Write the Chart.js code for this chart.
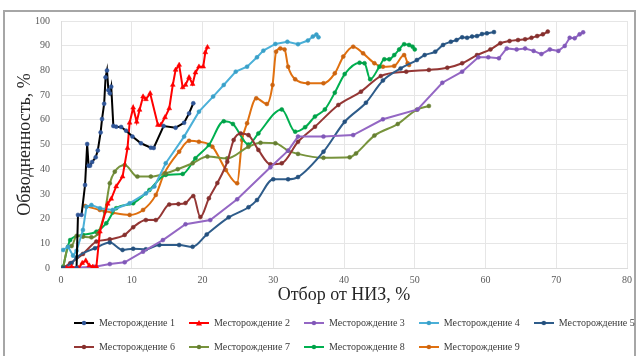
<!DOCTYPE html>
<html><head><meta charset="utf-8">
<script src="https://cdn.jsdelivr.net/npm/chart.js@4/dist/chart.umd.min.js"></script>
<style>
html,body{margin:0;padding:0;background:#fff;}
#wrap{position:relative;width:638px;height:356px;overflow:hidden;background:#fff;}
#frame{position:absolute;left:3px;top:10px;width:629px;height:360px;border:2px solid #a6a6a6;pointer-events:none;}
canvas{position:absolute;left:0;top:0;}
</style></head><body>
<div id="wrap"><div id="frame"></div><canvas id="c" width="638" height="356"></canvas></div>
<script>
const seriesNames = ["Месторождение 1","Месторождение 2","Месторождение 3","Месторождение 4","Месторождение 5","Месторождение 6","Месторождение 7","Месторождение 8","Месторождение 9"];
const xTitle = "Отбор от НИЗ, %";
const yTitle = "Обводненность, %";

const x1 = [2.2,2.4,2.9,3.4,3.7,3.9,4.1,4.4,4.9,5.2,5.6,5.8,6.1,6.3,6.5,6.7,6.9,7.1,7.4,7.8,8.5,9.2,10.1,11.3,12.7,13.1,14.5,16.2,17.4,18.1,18.7];
const y1 = [0,21.5,21.5,33.6,50.2,41.4,41.4,42.9,44.8,47.6,54.9,60.3,66.5,77.2,80,72,70.7,73.4,57.5,57.2,57.1,55.6,53.2,50.5,48.7,48.6,57.5,56.8,58.8,62.6,66.7];

const x2 = [0.8,1.5,2.5,3.0,3.5,4.0,4.5,5.0,5.5,6.6,7.1,7.8,8.7,9.4,9.7,10.2,10.7,11.1,11.6,12.0,12.6,13.7,14.1,14.7,15.3,15.8,16.2,16.7,17.2,17.6,18.1,18.6,19.0,19.5,20.1,20.4,20.7];
const y2 = [0,0.5,0,2,3,1,0.5,0.5,14.7,26,28,33,37,48.5,58.8,64.9,59.2,64,69.4,68.3,70.7,57.9,57.9,61,64.6,74.1,80.2,82.2,73.1,74.1,77.2,74.5,79.1,81.5,81.5,87.3,89.4];

const x3 = [1.0,4.8,6.9,9.0,11.6,14.4,17.6,21.1,24.9,29.6,32.1,33.5,37.1,41.3,45.5,50.4,53.9,56.7,59.0,60.4,61.9,63.0,64.4,65.6,66.8,67.9,69.1,70.3,71.2,71.9,72.6,73.3,73.8];
const y3 = [0,0.5,1.6,2.3,6.6,11.3,17.7,19.4,27.8,40.8,47.5,53.2,53.2,53.8,60.2,64.2,75,79.5,85.3,85.3,84.9,88.9,88.5,88.9,87.9,86.6,88.5,87.9,89.9,93.2,93,94.6,95.4];

const x4 = [0.3,1.0,1.7,2.2,3.1,3.6,4.3,5.5,7.3,9.7,12.0,13.2,14.8,17.4,19.5,21.5,23.0,24.7,26.3,27.7,28.6,30.3,32.0,33.5,34.9,35.6,36.1,36.4];
const y4 = [7.3,8.6,5,7,15.4,24.8,25.5,24.2,23.5,26.2,30.2,33,42.4,53.2,63.3,69.4,74.1,79.5,81.5,85.3,88,90.7,91.6,90.6,92.1,93.7,94.5,93.4];

const x5 = [0.3,1.5,2.2,4.8,6.9,8.7,10.2,12.0,13.9,16.7,18.6,20.6,23.7,26.5,27.7,30.0,32.1,33.5,37.1,40.1,43.1,45.5,48.0,50.3,51.4,52.9,54.0,55.1,55.9,56.7,57.4,58.1,58.8,59.5,60.2,61.2];
const y5 = [0,2,4.3,8,10.3,7.3,7.8,7.6,9.3,9.3,8.6,13.6,20.5,24.6,27.5,35.9,35.9,36.8,47.1,59.2,66.9,75.9,80.8,84.2,86.2,87.6,90.3,91.6,92.3,93.4,93.2,93.7,93.9,94.7,95,95.5];

const x6 = [0.3,1.3,3.1,5.0,6.9,9.0,10.2,12.0,13.4,15.3,16.6,17.6,18.7,19.7,20.9,22.1,23.5,24.4,25.4,26.5,27.9,29.6,31.2,33.5,35.9,39.2,42.4,45.2,48.8,52.0,54.6,56.7,58.8,60.7,62.1,63.4,64.6,65.6,66.5,67.3,68.1,68.8];
const y6 = [0,1.9,5.7,10.7,11.6,13.4,16.5,19.4,19.4,25.7,25.9,26.3,29.1,20.6,28.2,34.4,43,51.8,54.5,53.8,47.8,42,42.4,51.1,57.2,66,71.4,77.7,79.5,80.2,81.1,82.9,86.2,88.5,91,91.9,92.3,92.6,93.2,93.9,94.6,95.7];

const x7 = [0.3,1.0,1.5,2.2,3.1,4.3,5.2,6.2,6.9,7.6,9.0,10.8,12.7,14.8,16.5,18.6,20.7,23.5,26.5,28.2,30.3,32.1,33.5,37.1,40.8,41.7,44.3,47.6,50.3,52.0];
const y7 = [0,8.6,8.9,13,12.7,12.4,14,22.8,34.3,39,41.7,37,37,38.3,40,42.4,45.1,44.4,49.1,50.7,50.5,47.5,46.2,44.6,44.8,46.4,53.6,58.3,64.1,65.6];

const x8 = [0.3,1.3,3.1,5.0,6.4,7.8,10.2,12.5,14.8,17.2,19.0,20.9,23.0,24.3,26.5,27.9,31.2,33.1,34.5,35.9,37.3,38.7,40.1,42.2,42.9,43.7,45.0,45.7,46.4,47.1,47.8,48.5,49.2,49.7,50.0];
const y8 = [0.5,11.3,13.4,14.7,18.1,24.2,26.2,31.6,37.7,38.1,44.4,49.8,59.4,58.3,50,54.5,64.2,55.2,57,61.3,64.2,71,78.5,83.1,82.9,76.4,81.5,84.5,84.5,86.2,88.5,90.6,90.3,89.6,88.5];

const x9 = [3.4,5.5,7.3,9.7,11.6,13.4,14.6,16.7,18.1,19.5,21.4,23.3,24.9,25.6,26.3,27.6,29.1,29.9,30.4,31.0,31.6,32.1,33.1,34.9,37.1,38.7,39.9,41.3,42.7,44.3,45.5,47.1,48.5,49.0,49.2];
const y9 = [25.1,23.5,22.4,21.5,23.5,29.6,38.3,47.1,51.5,51.1,49.1,39.7,34.3,51.8,58.6,68.7,66.4,74.1,87.6,88.9,88.5,81.5,76.4,74.8,74.8,78.8,85.6,89.6,86.9,82.9,81.5,81.8,86.2,82.9,82.2];

const xTicks = [0,10,20,30,40,50,60,70,80];
const yTicks = [0,10,20,30,40,50,60,70,80,90,100];

const xs = [x1,x2,x3,x4,x5,x6,x7,x8,x9];
const ys = [y1,y2,y3,y4,y5,y6,y7,y8,y9];
const lineColors = ['#000000','#ff0000','#9467c4','#4bb0d8','#2e5c8a','#953735','#77933c','#00b050','#e0700f'];
const markColors = ['#2f5597','#ff0000','#8058b8','#3aa0c8','#24507e','#85302e','#667f33','#00a048','#cc6410'];
const smooth = [false,false,false,false,true,true,true,true,true];
const serif = "'Liberation Serif','Times New Roman',serif";

function legendIcon(i){
  const c = document.createElement('canvas');
  c.width = 20; c.height = 8;
  const g = c.getContext('2d');
  g.strokeStyle = lineColors[i]; g.lineWidth = 2;
  g.beginPath(); g.moveTo(0,4); g.lineTo(20,4); g.stroke();
  g.fillStyle = markColors[i];
  g.beginPath();
  if(i===1){ g.moveTo(10,1); g.lineTo(13,6.5); g.lineTo(7,6.5); g.closePath(); }
  else { g.arc(10,4,2.2,0,Math.PI*2); }
  g.fill();
  return c;
}
const legendIcons = seriesNames.map((n,i)=>legendIcon(i));

const datasets = seriesNames.map((name,i)=>({
  label: name,
  data: xs[i].map((x,j)=>({x:x, y:ys[i][j]})),
  borderColor: lineColors[i],
  backgroundColor: lineColors[i],
  borderWidth: 2,
  pointRadius: i===1 ? 2.8 : 2,
  pointStyle: i===1 ? 'triangle' : 'circle',
  pointBackgroundColor: markColors[i],
  pointBorderColor: markColors[i],
  pointBorderWidth: 0.5,
  tension: smooth[i] ? 0.4 : 0,
  cubicInterpolationMode: smooth[i] ? 'monotone' : 'default',
  fill: false
}));

const legendShift = {
  id: 'legendShift',
  afterLayout(chart){
    const lg = chart.legend;
    if(!lg) return;
    const w = lg.width, h = lg.height;
    lg.left = 60; lg.right = 60 + w;
    lg.top = 304; lg.bottom = 304 + h;
  }
};

const defaultGen = Chart.defaults.plugins.legend.labels.generateLabels;

new Chart(document.getElementById('c'), {
  type: 'line',
  data: { datasets },
  plugins: [legendShift],
  options: {
    responsive: false,
    animation: false,
    layout: { padding: { left: 9, right: 7, top: 21, bottom: 0 } },
    plugins: {
      tooltip: { enabled: false },
      legend: {
        position: 'bottom',
        align: 'start',
        labels: {
          usePointStyle: true,
          pointStyleWidth: 20,
          padding: 14,
          color: '#3a3a3a',
          font: { family: serif, size: 10 },
          generateLabels(chart){
            const items = defaultGen(chart);
            items.forEach((it,k)=>{ it.pointStyle = legendIcons[it.datasetIndex]; });
            return items;
          }
        }
      }
    },
    scales: {
      x: {
        type: 'linear',
        min: 0, max: 80,
        afterFit(s){ s.height = 30; },
        afterBuildTicks(s){ s.ticks = xTicks.map(v=>({value:v})); },
        grid: { color: '#e6e6e6', drawTicks: false },
        border: { color: '#dcdcdc' },
        ticks: { padding: 6, color: '#595959', font: { family: serif, size: 10 } },
        title: { display: true, text: xTitle, color: '#262626', font: { family: serif, size: 18, lineHeight: 1.2 }, padding: { top: 0, bottom: -8 } }
      },
      y: {
        min: 0, max: 100,
        afterFit(s){ s.width = 52; },
        afterBuildTicks(s){ s.ticks = yTicks.map(v=>({value:v})); },
        grid: { color: '#e6e6e6', drawTicks: false },
        border: { color: '#dcdcdc' },
        ticks: { padding: 11, color: '#595959', font: { family: serif, size: 10 } },
        title: { display: true, text: yTitle, color: '#262626', font: { family: serif, size: 18, lineHeight: 1.2 }, padding: { top: 5, bottom: 0 } }
      }
    }
  }
});
</script>
</body></html>
